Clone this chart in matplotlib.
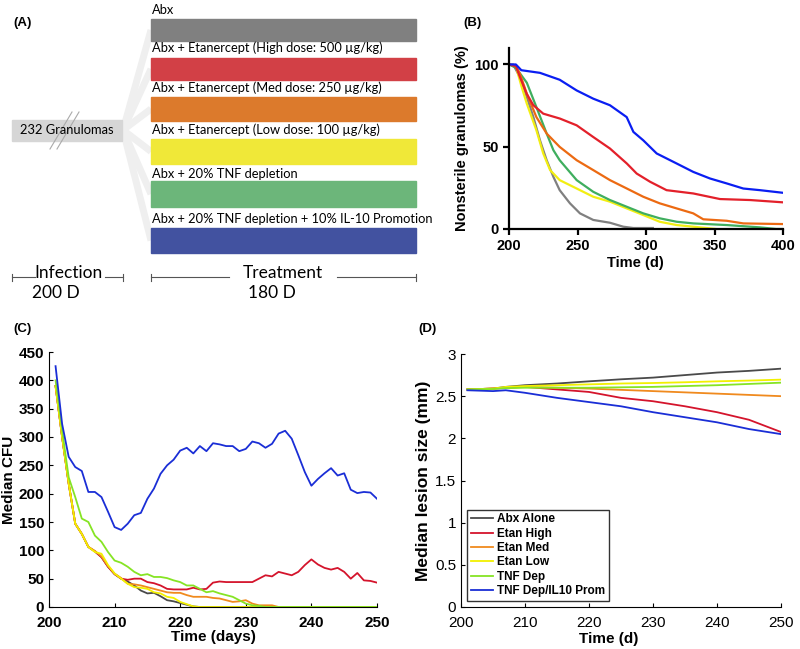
import matplotlib
matplotlib.use("Agg")
from matplotlib import pyplot as plt
import numpy as np

plt.rcParams['font.family'] = ['Liberation Sans', 'DejaVu Sans']

# ---- panel A: treatment arms
arm_labels = ["Abx",
              "Abx + Etanercept (High dose: 500 \u00b5g/kg)",
              "Abx + Etanercept (Med dose: 250 \u00b5g/kg)",
              "Abx + Etanercept (Low dose: 100 \u00b5g/kg)",
              "Abx + 20% TNF depletion",
              "Abx + 20% TNF depletion + 10% IL-10 Promotion"]
arm_colors = ["#808080", "#d24046", "#dc7a2c", "#f0e838", "#6cb67a", "#4252a0"]

# ---- panel B: nonsterile granulomas (%) vs time
b_gray_t = [200, 203, 208, 213, 217.8, 222.6, 227.5, 232.4, 237, 244.5, 251.8, 261.5, 273.7, 283.4, 290.8, 305]
b_gray_v = [100, 100, 92.3, 80.2, 68, 53.9, 41.8, 31.7, 23.6, 15.6, 9.5, 5.5, 3.8, 1.4, 0.6, 0.6]
b_red_t = [200, 205, 208, 212.9, 217.8, 225, 237.2, 249.4, 261.5, 273.7, 286, 293.2, 303, 315, 334.5, 354, 376, 400]
b_red_v = [100, 99, 92.3, 82.2, 75.2, 70.1, 67.1, 63, 55.9, 48.9, 39.8, 33.7, 28.7, 23.6, 21.6, 18.2, 17.6, 16.2]
b_orange_t = [200, 205, 208, 213, 220, 227.5, 237, 249.4, 261.5, 273.7, 286, 298, 310, 322.4, 334.5, 341.8, 358.9, 371, 400]
b_orange_v = [100, 99, 94.3, 82.2, 68, 58, 49.9, 41.8, 35.8, 29.7, 24.6, 19.6, 15.6, 12.5, 9.5, 5.9, 5, 3.4, 3]
b_yellow_t = [200, 205, 209, 213, 220, 225, 230, 237, 249.4, 261.5, 273.7, 286, 298, 310, 322.4, 334.5, 351]
b_yellow_v = [100, 99, 87, 76.2, 60, 45.9, 35.8, 29.7, 24.6, 19.6, 16.6, 12.5, 8.5, 4.4, 2.4, 1.4, 0]
b_green_t = [200, 205, 213, 220, 227.5, 232.4, 237, 249.4, 261.5, 273.7, 286, 298, 310, 322.4, 334.5, 358.9, 383, 395, 400]
b_green_v = [100, 98, 88.9, 74.1, 58, 47.9, 41.8, 29.7, 22.6, 17.6, 13.5, 9.5, 6.5, 4.4, 3.4, 2.4, 1, 0, 0]
b_blue_t = [200, 205, 209, 222.6, 237, 249.4, 261.5, 273.7, 285.9, 290.8, 298, 307.8, 322.4, 334.5, 346.7, 358.9, 371, 383.2, 400]
b_blue_v = [100, 100, 96.5, 94.9, 90.7, 84.2, 79.2, 75.2, 68, 59, 53.9, 45.9, 39.8, 34.7, 30.7, 27.7, 24.6, 23.6, 22]

# ---- panel C: median CFU, daily
c_days = list(range(201, 251))
c_blue = [425, 323, 265, 247, 240, 203, 203, 194, 168, 141, 136, 147, 162, 166, 191, 209, 235, 250, 260, 276,
          281, 271, 284, 275, 289, 287, 284, 284, 275, 279, 292, 289, 281, 288, 306, 311, 297, 268, 238, 214,
          226, 236, 245, 232, 236, 207, 201, 203, 202, 191]
c_red = [390, 300, 218, 147, 129, 106, 98, 88, 71, 58, 50, 48, 50, 50, 44, 42, 38, 32, 31, 31,
         31, 34, 31, 32, 43, 45, 44, 44, 44, 44, 44, 50, 56, 54, 62, 59, 56, 62, 74, 84,
         75, 69, 66, 69, 62, 50, 60, 47, 46, 43]
c_orange = [390, 300, 218, 147, 129, 106, 99, 89, 72, 59, 51, 41, 40, 38, 35, 32, 29, 26, 25, 25,
            21, 18, 18, 18, 16, 15, 12, 9, 10, 12, 6, 3, 3, 3, 0, 0, 0, 0, 0, 0,
            0, 0, 0, 0, 0, 0, 0, 0, 0, 0]
c_yellow = [390, 300, 218, 147, 129, 106, 97, 94, 74, 59, 50, 41, 35, 34, 32, 26, 24, 18, 16, 9,
            5, 1, 0, 0, 0, 0, 0, 0, 0, 0, 0, 0, 0, 0, 0, 0, 0, 0, 0, 0,
            0, 0, 0, 0, 0, 0, 0, 0, 0, 0]
c_gray = [390, 300, 218, 147, 129, 106, 98, 88, 71, 58, 50, 45, 38, 29, 24, 25, 19, 12, 10, 7,
          4, 1, 0, 0, 0, 0, 0, 0, 0, 0, 0, 0, 0, 0, 0, 0, 0, 0, 0, 0,
          0, 0, 0, 0, 0, 0, 0, 0, 0, 0]
c_green = [400, 312, 229, 194, 156, 150, 126, 115, 97, 82, 78, 71, 62, 56, 58, 53, 53, 51, 47, 44,
           38, 38, 32, 26, 28, 24, 21, 18, 12, 6, 3, 2, 0, 0, 0, 0, 0, 0, 0, 0,
           0, 0, 0, 0, 0, 0, 0, 0, 0, 0]

# ---- panel D: median lesion size (mm)
d_days = [201, 205, 207, 210, 215, 220, 225, 230, 235, 240, 245, 250]
d_gray = [2.58, 2.59, 2.61, 2.63, 2.65, 2.676, 2.70, 2.72, 2.75, 2.78, 2.80, 2.826]
d_red = [2.58, 2.59, 2.60, 2.61, 2.58, 2.55, 2.48, 2.44, 2.38, 2.31, 2.22, 2.075]
d_orange = [2.58, 2.59, 2.60, 2.61, 2.60, 2.59, 2.575, 2.56, 2.545, 2.53, 2.515, 2.50]
d_yellow = [2.58, 2.59, 2.61, 2.62, 2.63, 2.64, 2.65, 2.656, 2.665, 2.676, 2.685, 2.696]
d_green = [2.58, 2.585, 2.595, 2.60, 2.60, 2.60, 2.605, 2.61, 2.62, 2.63, 2.645, 2.66]
d_blue = [2.57, 2.56, 2.57, 2.54, 2.48, 2.43, 2.38, 2.31, 2.25, 2.19, 2.11, 2.05]
d_names = ["Abx Alone", "Etan High", "Etan Med", "Etan Low", "TNF Dep", "TNF Dep/IL10 Prom"]

W, H = 800, 649
fig = plt.figure(figsize=(W / 100, H / 100), dpi=100)

# overlay axes in pixel coordinates for diagram (A) and panel letters
ov = fig.add_axes([0, 0, 1, 1])
ov.set_xlim(0, W)
ov.set_ylim(H, 0)
ov.axis("off")

afont = ['Lato', 'DejaVu Sans']
bar_top = [19, 58, 97, 139, 181, 228]
bar_bot = [41, 80, 121, 164, 207, 253]
lab_y = [10, 48, 88, 130, 174, 219]
for i in range(6):
    ym = (bar_top[i] + bar_bot[i]) / 2
    ov.plot([123, 151], [130, ym], color="#efefef", lw=5, solid_capstyle="butt", zorder=1)
    ov.add_patch(plt.Rectangle((151, bar_top[i]), 265, bar_bot[i] - bar_top[i],
                               color=arm_colors[i], zorder=2))
    ov.text(152, lab_y[i], arm_labels[i], family=afont, fontsize=9.3, va="center", ha="left")

ov.add_patch(plt.Rectangle((12, 120), 110, 21, color="#d6d6d6", zorder=2))
ov.text(67, 130.5, "232 Granulomas", family=afont, fontsize=9.3, va="center", ha="center", zorder=4)
for dx in (0, 7):
    ov.plot([50 + dx, 72 + dx], [149, 112], color="#aaaaaa", lw=0.8, zorder=3)

# infection / treatment brackets
lc = "#555555"
ov.plot([12, 35], [277, 277], color=lc, lw=0.8)
ov.plot([105, 123], [277, 277], color=lc, lw=0.8)
ov.plot([151, 229], [277, 277], color=lc, lw=0.8)
ov.plot([337, 416], [277, 277], color=lc, lw=0.8)
for x in (12, 123, 151, 416):
    ov.plot([x, x], [274, 281], color=lc, lw=0.8)
ov.text(68, 273, "Infection", family=afont, fontsize=12.5, ha="center", va="center")
ov.text(56, 293, "200 D", family=afont, fontsize=12.5, ha="center", va="center")
ov.text(283, 273, "Treatment", family=afont, fontsize=12.5, ha="center", va="center")
ov.text(272, 293, "180 D", family=afont, fontsize=12.5, ha="center", va="center")

for lab, x, y in (("(A)", 13, 23), ("(B)", 463, 23), ("(C)", 13, 329), ("(D)", 418, 329)):
    ov.text(x, y, lab, fontsize=9.5, fontweight="bold", ha="left", va="center")

# ---- panel B
axb = fig.add_axes([509 / W, 1 - 229 / H, 274 / W, 181 / H])
bcols = ["#808080", "#e3202a", "#ec6a12", "#f2ee12", "#3fae5e", "#0a1ef2"]
for t, v, c in ((b_gray_t, b_gray_v, bcols[0]), (b_yellow_t, b_yellow_v, bcols[3]),
                (b_green_t, b_green_v, bcols[4]), (b_orange_t, b_orange_v, bcols[2]),
                (b_red_t, b_red_v, bcols[1]), (b_blue_t, b_blue_v, bcols[5])):
    axb.plot(t, v, color=c, lw=1.6)
axb.set_xlim(200, 400)
axb.set_ylim(0, 110)
axb.set_xticks([200, 250, 300, 350, 400])
axb.set_yticks([0, 50, 100])
for s in ("top", "right"):
    axb.spines[s].set_visible(False)
for s in ("left", "bottom"):
    axb.spines[s].set_linewidth(1.6)
axb.tick_params(direction="out", width=1.6, length=4, labelsize=10.5)
for lb in axb.get_xticklabels() + axb.get_yticklabels():
    lb.set_fontweight("bold")
axb.set_xlabel("Time (d)", fontsize=10.5, fontweight="bold", labelpad=2)
axb.xaxis.set_label_coords(0.46, -0.15)
axb.set_ylabel("Nonsterile granulomas (%)", fontsize=10.5, fontweight="bold")

# ---- panel C
axc = fig.add_axes([49 / W, 42 / H, 328 / W, 255 / H])
ccols = ["#4a4a4a", "#d4142c", "#f08a1e", "#f2f000", "#86e424", "#1a2ed6"]
for v, c in ((c_gray, ccols[0]), (c_red, ccols[1]), (c_orange, ccols[2]),
             (c_yellow, ccols[3]), (c_green, ccols[4]), (c_blue, ccols[5])):
    axc.plot(c_days, v, color=c, lw=1.3)
axc.set_xlim(200, 250)
axc.set_ylim(0, 450)
axc.set_xticks(range(200, 251, 10))
axc.set_yticks(range(0, 451, 50))
for s in ("top", "right"):
    axc.spines[s].set_visible(False)
axc.tick_params(direction="in", length=3, labelsize=11)
axc.tick_params(axis="x", pad=6.5)
for lb in axc.get_xticklabels() + axc.get_yticklabels():
    lb.set_fontweight("bold")
axc.set_xlabel("Time (days)", fontsize=11, fontweight="bold", labelpad=0)
axc.set_ylabel("Median CFU", fontsize=11, fontweight="bold", labelpad=2)

# ---- panel D
axd = fig.add_axes([461 / W, 42 / H, 320 / W, 253 / H])
for v, c, n in zip((d_gray, d_red, d_orange, d_yellow, d_green, d_blue), ccols, d_names):
    axd.plot(d_days, v, color=c, lw=1.3, label=n)
axd.set_xlim(200, 250)
axd.set_ylim(0, 3)
axd.set_xticks(range(200, 251, 10))
axd.set_yticks([0, 0.5, 1, 1.5, 2, 2.5, 3])
axd.set_yticklabels(["0", "0.5", "1", "1.5", "2", "2.5", "3"])
for s in ("top", "right"):
    axd.spines[s].set_visible(False)
axd.tick_params(direction="in", length=3, labelsize=11)
axd.tick_params(axis="x", pad=6.5)
axd.set_xlabel("Time (d)", fontsize=11, fontweight="bold", labelpad=0)
axd.xaxis.set_label_coords(0.46, -0.1)
axd.set_ylabel("Median lesion size (mm)", fontsize=12.5, fontweight="bold", labelpad=3)
leg = axd.legend(loc="lower left", bbox_to_anchor=(0.02, 0.025), prop={"weight": "bold", "size": 8.5},
                 frameon=True, fancybox=False, edgecolor="black", handlelength=1.9,
                 handletextpad=0.3, labelspacing=0.2, borderpad=0.3, borderaxespad=0)
leg.get_frame().set_linewidth(1.0)

fig.savefig("out.png", dpi=100)
